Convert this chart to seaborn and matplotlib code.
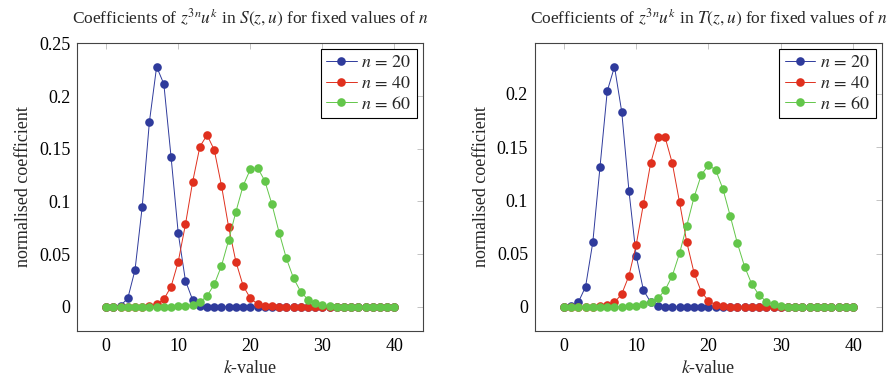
import numpy as np
import pandas as pd
import matplotlib
matplotlib.use('Agg')
import matplotlib.pyplot as plt
from matplotlib.ticker import MultipleLocator, FuncFormatter
import seaborn as sns

# ==========================================
# data
# ==========================================
k_values = list(range(41))

# S(z,u)
s_n20 = [0, 0, 0.001, 0.008, 0.0348, 0.0949, 0.1756, 0.2278, 0.2114, 0.1424,
         0.0697, 0.0247, 0.0064, 0.001, 0, 0, 0, 0, 0, 0,
         0, 0, 0, 0, 0, 0, 0, 0, 0, 0,
         0, 0, 0, 0, 0, 0, 0, 0, 0, 0, 0]
s_n40 = [0, 0, 0, 0, 0, 0, 0.0003, 0.0026, 0.007, 0.019,
         0.0427, 0.0782, 0.1186, 0.1519, 0.163, 0.1487, 0.1148, 0.0753, 0.0427, 0.0199,
         0.008, 0.0026, 0.001, 0.0003, 0, 0, 0, 0, 0, 0,
         0, 0, 0, 0, 0, 0, 0, 0, 0, 0, 0]
s_n60 = [0, 0, 0, 0, 0, 0, 0, 0, 0, 0,
         0.0005, 0.001, 0.0016, 0.0042, 0.0102, 0.0212, 0.0389, 0.0633, 0.0902, 0.1148,
         0.1304, 0.1319, 0.1196, 0.0972, 0.0703, 0.0459, 0.0269, 0.0142, 0.0067, 0.0032,
         0.0013, 0.0005, 0, 0, 0, 0, 0, 0, 0, 0, 0]

# T(z,u)
t_n20 = [0, 0.0005, 0.0042, 0.0188, 0.0605, 0.1316, 0.2027, 0.2256, 0.1833, 0.109,
         0.0479, 0.0156, 0.0042, 0.0005, 0, 0, 0, 0, 0, 0,
         0, 0, 0, 0, 0, 0, 0, 0, 0, 0,
         0, 0, 0, 0, 0, 0, 0, 0, 0, 0, 0]
t_n40 = [0, 0, 0, 0, 0, 0.0005, 0.0016, 0.0041, 0.0119, 0.0291,
         0.058, 0.0965, 0.1348, 0.1592, 0.1592, 0.1348, 0.0981, 0.0605, 0.032, 0.0141,
         0.0056, 0.0016, 0.0005, 0, 0, 0, 0, 0, 0, 0,
         0, 0, 0, 0, 0, 0, 0, 0, 0, 0, 0]
t_n60 = [0, 0, 0, 0, 0, 0, 0, 0, 0, 0.0005,
         0.001, 0.0025, 0.0041, 0.0079, 0.0157, 0.0292, 0.0502, 0.0762, 0.1028, 0.1238,
         0.1332, 0.1285, 0.1106, 0.0855, 0.0596, 0.0376, 0.021, 0.011, 0.0047, 0.0022,
         0.0006, 0, 0, 0, 0, 0, 0, 0, 0, 0, 0]

series_labels = [r'$n\,=\,20$', r'$n\,=\,40$', r'$n\,=\,60$']
series_colors = ['#2f3b9c', '#e0301e', '#63c64a']

titles = [r'Coefficients of $z^{3n}u^k$ in $S(z,u)$ for fixed values of $n$',
          r'Coefficients of $z^{3n}u^k$ in $T(z,u)$ for fixed values of $n$']

# ==========================================
# style
# ==========================================
sns.set_style('white')
plt.rcParams['font.family'] = ['Liberation Serif', 'DejaVu Serif']
plt.rcParams['mathtext.fontset'] = 'stix'

fig = plt.figure(figsize=(8.91, 3.78), dpi=100)
ax_s = fig.add_axes([0.0868, 0.1251, 0.3883, 0.7619])
ax_t = fig.add_axes([0.6004, 0.1251, 0.3895, 0.7619])

panels = [(ax_s, [s_n20, s_n40, s_n60]), (ax_t, [t_n20, t_n40, t_n60])]

for idx, (ax, ys) in enumerate(panels):
    for vals, lab, col in zip(ys, series_labels, series_colors):
        sns.lineplot(x=k_values, y=vals, ax=ax, color=col, linewidth=0.7,
                     marker='o', markersize=6.2, markeredgewidth=0, label=lab)

    # pgfplots style: 10% enlarged limits
    ax.margins(x=0.1, y=0.1)
    ax.xaxis.set_major_locator(MultipleLocator(10))
    ax.yaxis.set_major_locator(MultipleLocator(0.05))
    ax.yaxis.set_major_formatter(FuncFormatter(lambda v, p: f'{v:g}' if abs(v) > 1e-9 else '0'))

    ax.tick_params(direction='in', length=4, width=0.7, color='#c4c4c4',
                   top=True, right=True, labelsize=13, pad=5, labelcolor='black')
    for sp in ax.spines.values():
        sp.set_color('#444444')
        sp.set_linewidth(0.8)

    ax.set_title(titles[idx], fontsize=12.5, pad=14)
    ax.set_xlabel(r'$k$-value', fontsize=13, labelpad=3.5)
    ax.set_ylabel('normalised coefficient', fontsize=13, labelpad=5)

    leg = ax.legend(loc='upper right', fontsize=13, frameon=True, fancybox=False,
                    edgecolor='black', framealpha=1, borderaxespad=0.35,
                    borderpad=0.3, labelspacing=0.2, handlelength=1.7,
                    handletextpad=0.25)
    leg.get_frame().set_linewidth(0.8)

fig.savefig('out.png', dpi=100)
